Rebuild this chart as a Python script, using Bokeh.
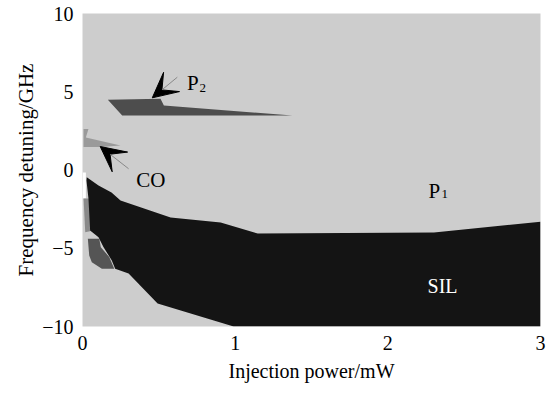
from bokeh.plotting import figure
from bokeh.models import Range1d, FixedTicker, Arrow, VeeHead
from bokeh.core.properties import value
from bokeh.embed import file_html
from bokeh.resources import INLINE

# ---- data ----
x_ticks = [0, 1, 2, 3]
y_ticks = [-10, -5, 0, 5, 10]

# SIL (stable injection locking) region
sil_x = [0.028, 0.105, 0.19, 0.249, 0.577, 0.905, 1.148, 2.302, 3.0, 3.0, 0.99,
         0.492, 0.302, 0.214, 0.192, 0.138, 0.105, 0.05, 0.039, 0.026]
sil_y = [-0.46, -0.99, -1.44, -1.95, -3.04, -3.35, -4.06, -3.99, -3.3, -10.0, -10.0,
         -8.53, -6.61, -6.31, -5.78, -4.93, -4.29, -3.87, -1.82, -0.67]

# P2 (period-two) region
p2_x = [0.166, 0.511, 0.533, 1.375, 0.26]
p2_y = [4.49, 4.55, 4.12, 3.48, 3.48]

# CO (chaotic oscillation) region
co_x = [0.007, 0.039, 0.022, 0.249, 0.12, 0.007]
co_y = [2.62, 2.62, 2.08, 1.57, 1.47, 1.47]

# small regions at the low-power edge
dark_x = [0.035, 0.11, 0.12, 0.175, 0.208, 0.127, 0.061, 0.044]
dark_y = [-4.40, -4.40, -4.93, -5.56, -6.31, -6.31, -5.89, -5.46]
mid_x = [0.007, 0.045, 0.055, 0.018]
mid_y = [-1.82, -1.82, -3.9, -3.97]
white_x = [0.0, 0.022, 0.022, 0.0]
white_y = [-0.16, -0.16, -1.82, -1.82]

FONT = "Liberation Serif"

p = figure(width=552, height=394, output_backend="svg", toolbar_location=None,
           x_range=Range1d(0, 3), y_range=Range1d(-10, 10),
           min_border_left=82, min_border_right=12, min_border_top=13, min_border_bottom=68)
p.background_fill_color = "#cdcdcd"
p.border_fill_color = "white"
p.outline_line_color = None
p.grid.visible = False

p.patch(white_x, white_y, fill_color="white", line_color=None)
p.patch(mid_x, mid_y, fill_color="#8a8a8a", line_color=None)
p.patch(dark_x, dark_y, fill_color="#555555", line_color=None)
p.patch(sil_x, sil_y, fill_color="#141414", line_color=None)
p.patch(p2_x, p2_y, fill_color="#4d4d4d", line_color=None)
p.patch(co_x, co_y, fill_color="#9a9a9a", line_color=None)

# arrows
p.add_layout(Arrow(end=VeeHead(size=25, fill_color="black", line_color="black"),
                   x_start=0.621, y_start=5.93, x_end=0.457, y_end=4.61,
                   line_color="#888888", line_width=1))
p.add_layout(Arrow(end=VeeHead(size=25, fill_color="black", line_color="black"),
                   x_start=0.302, y_start=0.08, x_end=0.116, y_end=1.50,
                   line_color="#888888", line_width=1))

# labels
p.text(x=[0.684], y=[5.59], text=["P"], text_font=value(FONT), text_font_size="21px",
       text_baseline="alphabetic", text_align="left", text_color="black")
p.text(x=[0.767], y=[5.22], text=["2"], text_font=value(FONT), text_font_size="13px",
       text_baseline="alphabetic", text_align="left", text_color="black")
p.text(x=[0.352], y=[-0.67], text=["CO"], text_font=value(FONT), text_font_size="21px",
       text_baseline="alphabetic", text_align="left", text_color="black")
p.text(x=[2.266], y=[-1.31], text=["P"], text_font=value(FONT), text_font_size="21px",
       text_baseline="alphabetic", text_align="left", text_color="black")
p.text(x=[2.352], y=[-1.55], text=["1"], text_font=value(FONT), text_font_size="13px",
       text_baseline="alphabetic", text_align="left", text_color="black")
p.text(x=[2.26], y=[-7.44], text=["SIL"], text_font=value(FONT), text_font_size="20px",
       text_baseline="alphabetic", text_align="left", text_color="white")

# axes
p.xaxis.ticker = FixedTicker(ticks=x_ticks)
p.yaxis.ticker = FixedTicker(ticks=y_ticks)
p.yaxis.major_label_overrides = {-10: "\u221210", -5: "\u22125", 0: "0", 5: "5", 10: "10"}
for ax in (p.xaxis[0], p.yaxis[0]):
    ax.axis_line_color = None
    ax.major_tick_line_color = None
    ax.minor_tick_line_color = None
    ax.major_tick_out = 0
    ax.major_tick_in = 0
    ax.major_label_text_font = FONT
    ax.major_label_text_font_size = "20px"
    ax.major_label_text_color = "black"
    ax.major_label_standoff = 9
    ax.axis_label_text_font = FONT
    ax.axis_label_text_font_style = "normal"
    ax.axis_label_text_color = "black"
p.xaxis.axis_label = "Injection power/mW"
p.xaxis.axis_label_text_font_size = "20px"
p.xaxis.axis_label_standoff = 7
p.yaxis.axis_label = "Frequency detuning/GHz"
p.yaxis.axis_label_text_font_size = "21px"
p.yaxis.axis_label_standoff = 1

open("out.html", "w").write(file_html(p, INLINE))
